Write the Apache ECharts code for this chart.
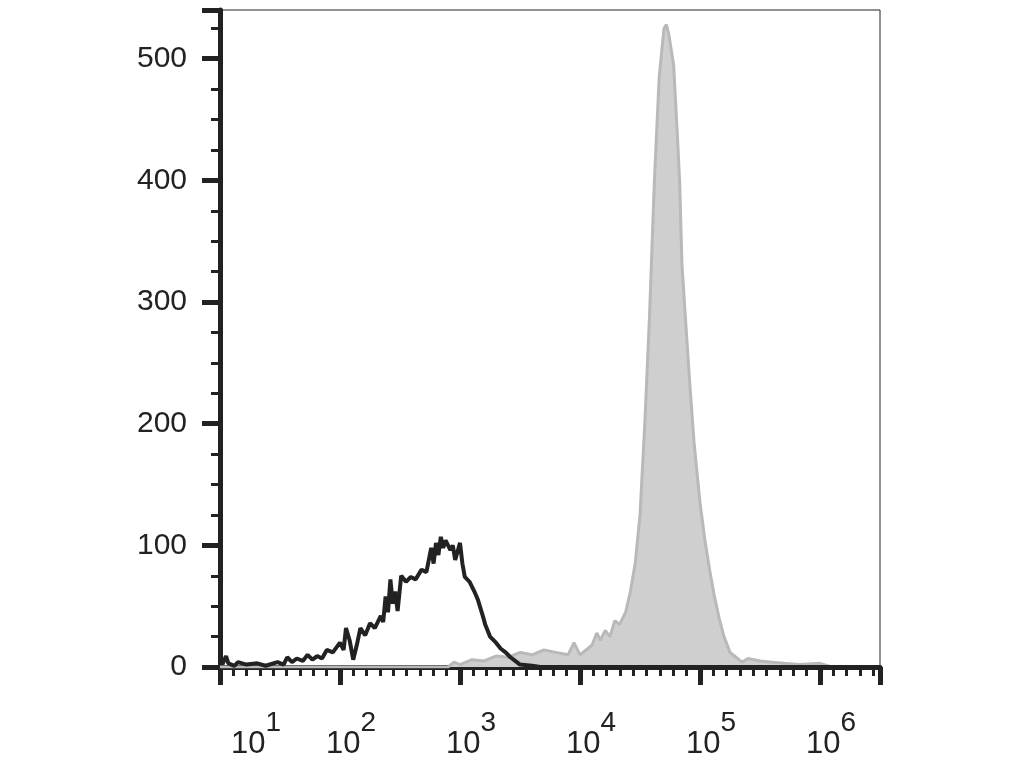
<!DOCTYPE html><html><head><meta charset="utf-8"><script src="https://cdn.jsdelivr.net/npm/echarts@6/dist/echarts.min.js"></script></head><body style="margin:0"><div id="c" style="width:1030px;height:773px"></div><script>
const unstained=[[1.02,2],[1.05,9],[1.07,3],[1.12,1],[1.15,4],[1.22,2],[1.31,3],[1.38,1],[1.48,4],[1.53,2],[1.56,8],[1.6,4],[1.64,7],[1.69,5],[1.73,10],[1.77,6],[1.81,9],[1.85,7],[1.89,14],[1.94,12],[2.0,20],[2.03,14],[2.05,32],[2.08,22],[2.11,6],[2.14,18],[2.17,32],[2.21,26],[2.25,36],[2.29,32],[2.34,42],[2.36,37],[2.38,58],[2.40,45],[2.42,72],[2.44,52],[2.46,62],[2.48,46],[2.51,75],[2.55,70],[2.59,74],[2.63,72],[2.68,80],[2.72,78],[2.76,98],[2.78,85],[2.80,102],[2.82,92],[2.84,107],[2.86,98],[2.88,104],[2.92,96],[2.94,100],[2.96,88],[3.0,102],[3.02,85],[3.04,74],[3.08,70],[3.12,62],[3.15,55],[3.19,42],[3.21,35],[3.25,25],[3.3,20],[3.34,15],[3.38,12],[3.42,8],[3.46,5],[3.50,2],[3.6,1],[3.67,0],[6.5,0]];
const stained=[[1.0,0],[2.9,0],[2.95,4],[3.0,2],[3.1,6],[3.2,5],[3.3,9],[3.4,8],[3.5,12],[3.6,10],[3.7,14],[3.8,12],[3.9,10],[3.95,20],[4.0,10],[4.05,14],[4.1,18],[4.14,28],[4.17,22],[4.21,30],[4.25,25],[4.29,38],[4.33,35],[4.38,45],[4.42,62],[4.46,85],[4.50,125],[4.54,200],[4.58,290],[4.62,400],[4.66,485],[4.70,525],[4.72,528],[4.74,520],[4.78,495],[4.81,440],[4.83,400],[4.85,330],[4.87,300],[4.91,240],[4.95,185],[5.0,135],[5.04,105],[5.08,80],[5.12,58],[5.16,40],[5.2,25],[5.25,12],[5.3,8],[5.35,4],[5.4,7],[5.5,5],[5.6,4],[5.7,3],[5.83,2],[6.0,3],[6.1,0],[6.5,0]];
const yTicks=[0,100,200,300,400,500];
const c=echarts.init(document.getElementById('c'));
c.setOption({animation:false,backgroundColor:'#fff',
grid:{left:220,right:150,top:10,bottom:106,show:true,borderColor:'#222',borderWidth:1},
xAxis:{type:'value',min:1,max:6.5,interval:1,
 axisLine:{lineStyle:{color:'#222',width:5}},
 axisTick:{length:18,lineStyle:{width:5,color:'#222'}},
 minorTick:{show:true,splitNumber:9,length:9,lineStyle:{width:3,color:'#222'}},
 splitLine:{show:false},
 axisLabel:{margin:42,color:'#222',fontFamily:'Liberation Sans',
  formatter:v=>v===1?'{p|}{b|10}{s|1}':(v<=6?'{q|}{b|10}{s|'+v+'}':''),
  rich:{p:{width:72},q:{width:22},b:{fontSize:31,fontFamily:'Liberation Sans',color:'#222',verticalAlign:'bottom',padding:[20,0,0,0]},s:{fontSize:28,fontFamily:'Liberation Sans',color:'#222',verticalAlign:'top',padding:[0,0,20,0]}}}},
yAxis:{type:'value',min:0,max:540,interval:100,
 axisLine:{show:true,lineStyle:{color:'#222',width:5}},
 axisTick:{length:18,lineStyle:{width:5,color:'#222'}},
 minorTick:{show:true,splitNumber:4,length:9,lineStyle:{width:3,color:'#222'}},
 splitLine:{show:false},
 axisLabel:{margin:33,color:'#222',fontSize:30,fontFamily:'Liberation Sans',verticalAlign:'middle',formatter:v=>yTicks.includes(v)?String(v):''}},
series:[
 {type:'line',data:stained,symbol:'none',lineStyle:{color:'#b9b9b9',width:3},areaStyle:{color:'#cfcfcf',opacity:1},z:2},
 {type:'line',data:unstained,symbol:'none',lineStyle:{color:'#222',width:4},z:3}
]});
</script></body></html>
